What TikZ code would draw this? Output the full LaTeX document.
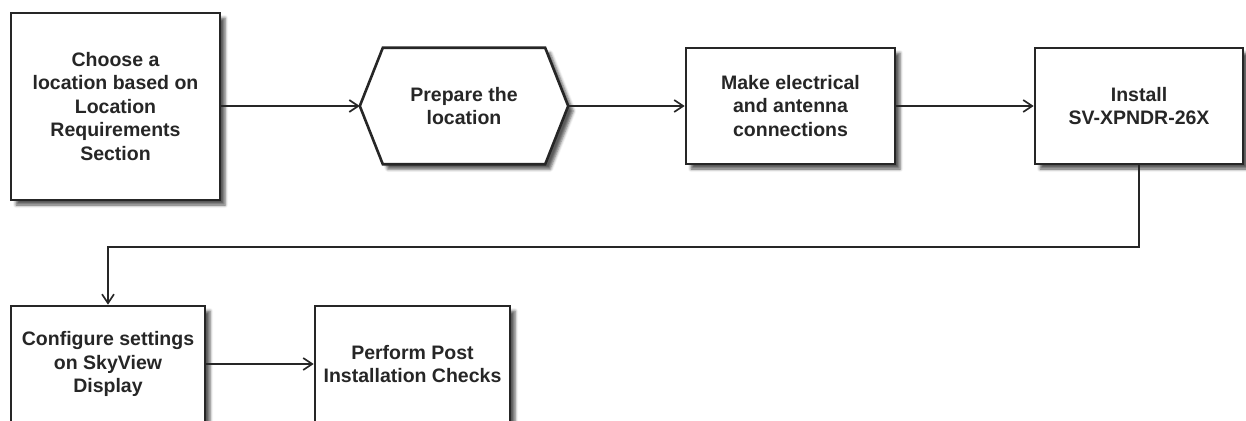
\documentclass[tikz,border=0pt]{standalone}
\usepackage{fontspec}
\setmainfont{Liberation Sans}
\usetikzlibrary{arrows.meta,shadows.blur}
\begin{document}
\begin{tikzpicture}[x=1pt,y=-1pt,
  shade/.style={blur shadow={shadow xshift=5pt,shadow yshift=-5pt,shadow blur radius=3pt,shadow opacity=65}},
  stepbox/.style={draw=black!85,line width=2.6pt,fill=white,shade,align=center,inner sep=0pt,
    font=\fontsize{19.5}{23.5}\selectfont\bfseries,text=black!85},
  hexlabel/.style={inner sep=0pt,align=center,font=\fontsize{19.5}{23.5}\selectfont\bfseries,text=black!85},
  conn/.style={draw=black!85,line width=2.2pt,-{Straight Barb[length=9pt,width=12pt,line width=1.7pt]}}]
\useasboundingbox (0,0) rectangle (1246,420);
\clip (0,0) rectangle (1246,420);
% nodes
\node[stepbox,minimum width=209pt,minimum height=187pt] (choose) at (115.5,106.5)
  {Choose a\\location based on\\Location\\Requirements\\Section};
\node[hexlabel,minimum width=208pt,minimum height=116pt] (prep) at (464,106) {};
\draw[draw=black!85,line width=2.6pt,fill=white,shade,line join=miter]
  (prep.west) -- ([xshift=23pt]prep.north west) -- ([xshift=-23pt]prep.north east)
  -- (prep.east) -- ([xshift=-23pt]prep.south east) -- ([xshift=23pt]prep.south west) -- cycle;
\node[hexlabel] at (prep.center) {Prepare the\\location};
\node[stepbox,minimum width=209pt,minimum height=116pt] (conns) at (790.5,106)
  {Make electrical\\and antenna\\connections};
\node[stepbox,minimum width=208pt,minimum height=116pt] (inst) at (1139,106)
  {Install\\SV-XPNDR-26X};
\node[stepbox,minimum width=194pt,minimum height=116pt] (conf) at (108,364)
  {Configure settings\\on SkyView\\Display};
\node[stepbox,minimum width=195pt,minimum height=116pt] (post) at (412.5,364)
  {Perform Post\\Installation Checks};
% connectors
\draw[conn] (choose.east |- prep.west) -- (prep.west);
\draw[conn] (prep.east) -- (conns.west);
\draw[conn] (conns.east) -- (inst.west);
\draw[conn] (inst.south) -- ++(0,82) -| (conf.north);
\draw[conn] (conf.east) -- (post.west);
\end{tikzpicture}
\end{document}
